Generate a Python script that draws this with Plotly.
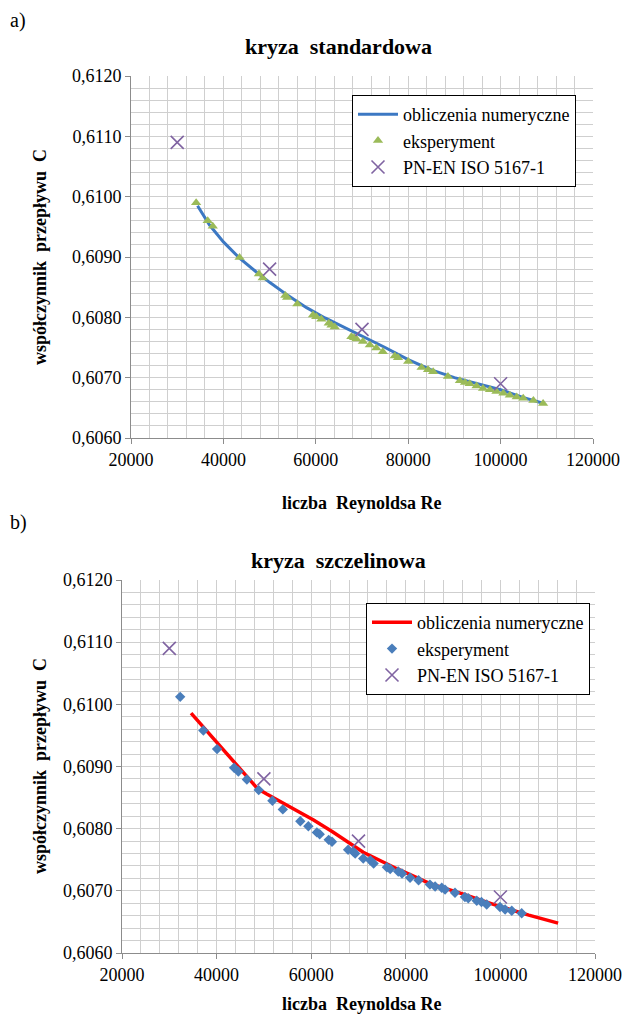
import plotly.graph_objects as go

# ---- data ----
re_iso = [30000, 50000, 70000, 100000]
c_iso = [0.6109, 0.6088, 0.6078, 0.6069]

re_num_a = [34400, 37000, 40000, 43500, 47000, 50000, 54000, 58000, 62000, 66000,
            70000, 75000, 80000, 85000, 90000, 95000, 100000, 105000, 109000]
c_num_a = [0.60985, 0.60953, 0.60925, 0.60898, 0.60876, 0.60858, 0.60836, 0.60816, 0.60799, 0.60784,
           0.60769, 0.60750, 0.60730, 0.60713, 0.60700, 0.60690, 0.60680, 0.60667, 0.60658]

re_exp_a = [34100, 36600, 37700, 43500, 47700, 48500, 53400, 53800, 56000, 59400,
            60100, 61200, 62800, 63400, 64100, 67700, 68300, 68800, 70200, 71700,
            73100, 74500, 77100, 77800, 80000, 82900, 84300, 85400, 88600, 91200,
            92300, 93300, 94800, 96200, 97700, 99100, 100600, 102000, 103500, 104900,
            107100, 109200]
c_exp_a = [0.60990, 0.60960, 0.60951, 0.60899, 0.60872, 0.60865, 0.60836, 0.60833, 0.60822, 0.60804,
           0.60801, 0.60797, 0.60790, 0.60787, 0.60784, 0.60768, 0.60766, 0.60764, 0.60760, 0.60754,
           0.60749, 0.60743, 0.60736, 0.60733, 0.60727, 0.60717, 0.60713, 0.60710, 0.60702, 0.60695,
           0.60692, 0.60690, 0.60686, 0.60682, 0.60680, 0.60677, 0.60674, 0.60671, 0.60668, 0.60666,
           0.60662, 0.60657]

re_num_b = [34600, 41000, 46400, 48700, 50500, 54800, 60500, 64500, 69000,
            71000, 78000, 85000, 92000, 99000, 106000, 109000, 112200]
c_num_b = [0.60986, 0.60930, 0.60884, 0.60864, 0.60856, 0.60838, 0.60814, 0.60795, 0.60773,
           0.60762, 0.60736, 0.60712, 0.60695, 0.60677, 0.60661, 0.60654, 0.60648]

re_exp_b = [32300, 37200, 40100, 43700, 44600, 46400, 48900, 51800, 54000, 57700,
            59400, 61200, 61800, 63700, 64400, 67800, 68900, 69300, 71000, 72500,
            73200, 76000, 76700, 78400, 79200, 80900, 82700, 85100, 86200, 87600,
            88300, 90400, 92500, 93200, 95000, 96000, 97100, 99900, 101000, 102400,
            104500]
c_exp_b = [0.61012, 0.60958, 0.60928, 0.60898, 0.60892, 0.60879, 0.60862, 0.60845, 0.60831, 0.60812,
           0.60804, 0.60794, 0.60791, 0.60782, 0.60779, 0.60766, 0.60763, 0.60760, 0.60752, 0.60749,
           0.60744, 0.60738, 0.60735, 0.60731, 0.60728, 0.60721, 0.60717, 0.60710, 0.60707, 0.60705,
           0.60702, 0.60697, 0.60690, 0.60688, 0.60684, 0.60682, 0.60678, 0.60674, 0.60670, 0.60668,
           0.60664]

x_ticks = [20000, 40000, 60000, 80000, 100000, 120000]
y_ticks = [0.606, 0.607, 0.608, 0.609, 0.610, 0.611, 0.612]
y_ticktext = ["0,6060", "0,6070", "0,6080", "0,6090", "0,6100", "0,6110", "0,6120"]

FONT = "'Liberation Serif', 'Times New Roman', Times, 'DejaVu Serif', serif"
W, H = 622, 1019

fig = go.Figure()

# --- top chart ---
fig.add_trace(go.Scatter(x=re_num_a, y=c_num_a, mode="lines", name="obliczenia numeryczne",
                         line=dict(color="#3C78C3", width=3),
                         xaxis="x", yaxis="y", legend="legend"))
fig.add_trace(go.Scatter(x=re_exp_a, y=c_exp_a, mode="markers", name="eksperyment",
                         marker=dict(symbol="triangle-up", size=9, color="#9BBB59"),
                         xaxis="x", yaxis="y", legend="legend"))
fig.add_trace(go.Scatter(x=re_iso, y=c_iso, mode="markers", name="PN-EN ISO 5167-1",
                         marker=dict(symbol="x-thin", size=13, color="#8064A2",
                                     line=dict(color="#8064A2", width=1.6)),
                         xaxis="x", yaxis="y", legend="legend"))

# --- bottom chart ---
fig.add_trace(go.Scatter(x=re_num_b, y=c_num_b, mode="lines", name="obliczenia numeryczne",
                         line=dict(color="#FF0000", width=3.5),
                         xaxis="x2", yaxis="y2", legend="legend2"))
fig.add_trace(go.Scatter(x=re_exp_b, y=c_exp_b, mode="markers", name="eksperyment",
                         marker=dict(symbol="diamond", size=8, color="#4A7EBB"),
                         xaxis="x2", yaxis="y2", legend="legend2"))
fig.add_trace(go.Scatter(x=re_iso, y=c_iso, mode="markers", name="PN-EN ISO 5167-1",
                         marker=dict(symbol="x-thin", size=13, color="#8064A2",
                                     line=dict(color="#8064A2", width=1.6)),
                         xaxis="x2", yaxis="y2", legend="legend2"))

grid_col = "#CFCFCF"
axis_col = "#8C8C8C"

def xaxis_cfg(anchor, domain):
    return dict(domain=domain, anchor=anchor, range=[20000, 120000],
                tickvals=x_ticks, ticktext=[str(v) for v in x_ticks],
                ticks="outside", ticklen=5, tickcolor=axis_col,
                showline=True, linecolor=axis_col, linewidth=1,
                showgrid=True, gridcolor=grid_col, gridwidth=1,
                minor=dict(dtick=4000, tick0=20000, showgrid=True, gridcolor=grid_col, gridwidth=1),
                tickfont=dict(family=FONT, size=18, color="black"),
                zeroline=False, automargin=False)

def yaxis_cfg(anchor, domain):
    return dict(domain=domain, anchor=anchor, range=[0.606, 0.612],
                tickvals=y_ticks, ticktext=y_ticktext,
                ticks="outside", ticklen=5, tickcolor=axis_col,
                showline=True, linecolor=axis_col, linewidth=1,
                showgrid=True, gridcolor=grid_col, gridwidth=1,
                minor=dict(dtick=0.0002, tick0=0.606, showgrid=True, gridcolor=grid_col, gridwidth=1),
                tickfont=dict(family=FONT, size=18, color="black"),
                zeroline=False, automargin=False)

top_x = [131 / W, 593 / W]
top_y = [1 - 438 / H, 1 - 76 / H]
bot_x = [122 / W, 595 / W]
bot_y = [1 - 953 / H, 1 - 580 / H]

legend_common = dict(bgcolor="white", bordercolor="black", borderwidth=1,
                     font=dict(family=FONT, size=18, color="black"),
                     itemwidth=40, tracegroupgap=0, xanchor="left", yanchor="top",
                     xref="paper", yref="paper")

fig.update_layout(
    width=W, height=H,
    margin=dict(l=0, r=0, t=0, b=0, autoexpand=False),
    paper_bgcolor="white", plot_bgcolor="white",
    font=dict(family=FONT),
    showlegend=True,
    xaxis=xaxis_cfg("y", top_x),
    yaxis=yaxis_cfg("x", top_y),
    xaxis2=xaxis_cfg("y2", bot_x),
    yaxis2=yaxis_cfg("x2", bot_y),
    legend=dict(x=352 / W, y=1 - 95 / H, **legend_common),
    legend2=dict(x=366 / W, y=1 - 603 / H, **legend_common),
)

def ann(text, xp, yp, size, bold=False, angle=0, xanchor="center"):
    fig.add_annotation(text=f"<b>{text}</b>" if bold else text,
                       x=xp / W, y=1 - yp / H, xref="paper", yref="paper",
                       showarrow=False, textangle=angle, xanchor=xanchor, yanchor="middle",
                       font=dict(family=FONT, size=size, color="black"))

ann("a)", 8, 20, 20, xanchor="left")
ann("b)", 8, 522, 20, xanchor="left")
ann("kryza  standardowa", 338, 46, 22, bold=True)
ann("kryza  szczelinowa", 338, 560, 22, bold=True)
ann("liczba  Reynoldsa Re", 362, 503, 18, bold=True)
ann("liczba  Reynoldsa Re", 362, 1004, 18, bold=True)
ann("współczynnik  przepływu  C", 40, 257, 18, bold=True, angle=-90)
ann("współczynnik  przepływu  C", 40, 766, 18, bold=True, angle=-90)

fig.write_html("out.html", config={"displayModeBar": False},
               post_script="document.body.style.margin='0';document.body.style.overflow='hidden';")
